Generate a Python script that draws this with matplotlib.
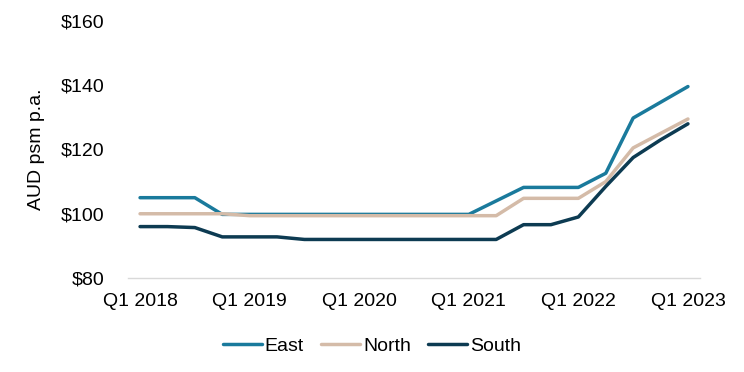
import matplotlib
matplotlib.use("Agg")
import matplotlib.pyplot as plt

plt.rcParams['font.family'] = ['Liberation Sans', 'DejaVu Sans']

# quarterly series, Q1 2018 .. Q1 2023
quarters = [f"Q{q} {y}" for y in range(2018, 2024) for q in range(1, 5)][:21]
east = [105, 105, 105, 99.8, 99.8, 99.8, 99.8, 99.8, 99.8, 99.8, 99.8, 99.8, 99.8,
        104, 108.2, 108.2, 108.2, 112.6, 129.8, 134.7, 139.6]
north = [100, 100, 100, 100, 99.4, 99.4, 99.4, 99.4, 99.4, 99.4, 99.4, 99.4, 99.4,
         99.4, 104.8, 104.8, 104.8, 110, 120.5, 125, 129.5]
south = [96, 96, 95.7, 92.8, 92.8, 92.8, 92, 92, 92, 92, 92, 92, 92,
         92, 96.6, 96.6, 99, 108.5, 117.5, 123, 128]

series = [("East", east, "#1a7a9c"), ("North", north, "#d4bba8"), ("South", south, "#0d3b52")]

fig = plt.figure(figsize=(7.44, 3.72), dpi=100)
ax = fig.add_axes([128 / 744, 1 - 278 / 372, 572 / 744, 257 / 372])

x = list(range(len(quarters)))
for name, vals, col in series:
    ax.plot(x, vals, color=col, lw=2.5, label=name, solid_capstyle='round')

ax.set_xlim(-0.44, len(quarters) - 1 + 0.44)
ax.set_ylim(80, 160)
ax.set_yticks([80, 100, 120, 140, 160])
ax.set_yticklabels([f"${v}" for v in [80, 100, 120, 140, 160]])
ax.set_xticks(x[::4])
ax.set_xticklabels(quarters[::4])
ax.tick_params(axis='both', length=0, labelsize=14, colors='black')
ax.tick_params(axis='y', pad=17)
ax.tick_params(axis='x', pad=11)

for s in ['top', 'right', 'left']:
    ax.spines[s].set_visible(False)
ax.spines['bottom'].set_color('#d9d9d9')
ax.spines['bottom'].set_linewidth(1)

ax.set_ylabel("AUD psm p.a.", fontsize=14)
ax.yaxis.set_label_coords(-0.145, 0.5)

fig.legend(loc='center', bbox_to_anchor=(0.5, 1 - 346 / 372), ncol=3, frameon=False,
           fontsize=14, handlelength=2.0, handletextpad=0.15, columnspacing=0.9)

fig.savefig("out.png", dpi=100)
